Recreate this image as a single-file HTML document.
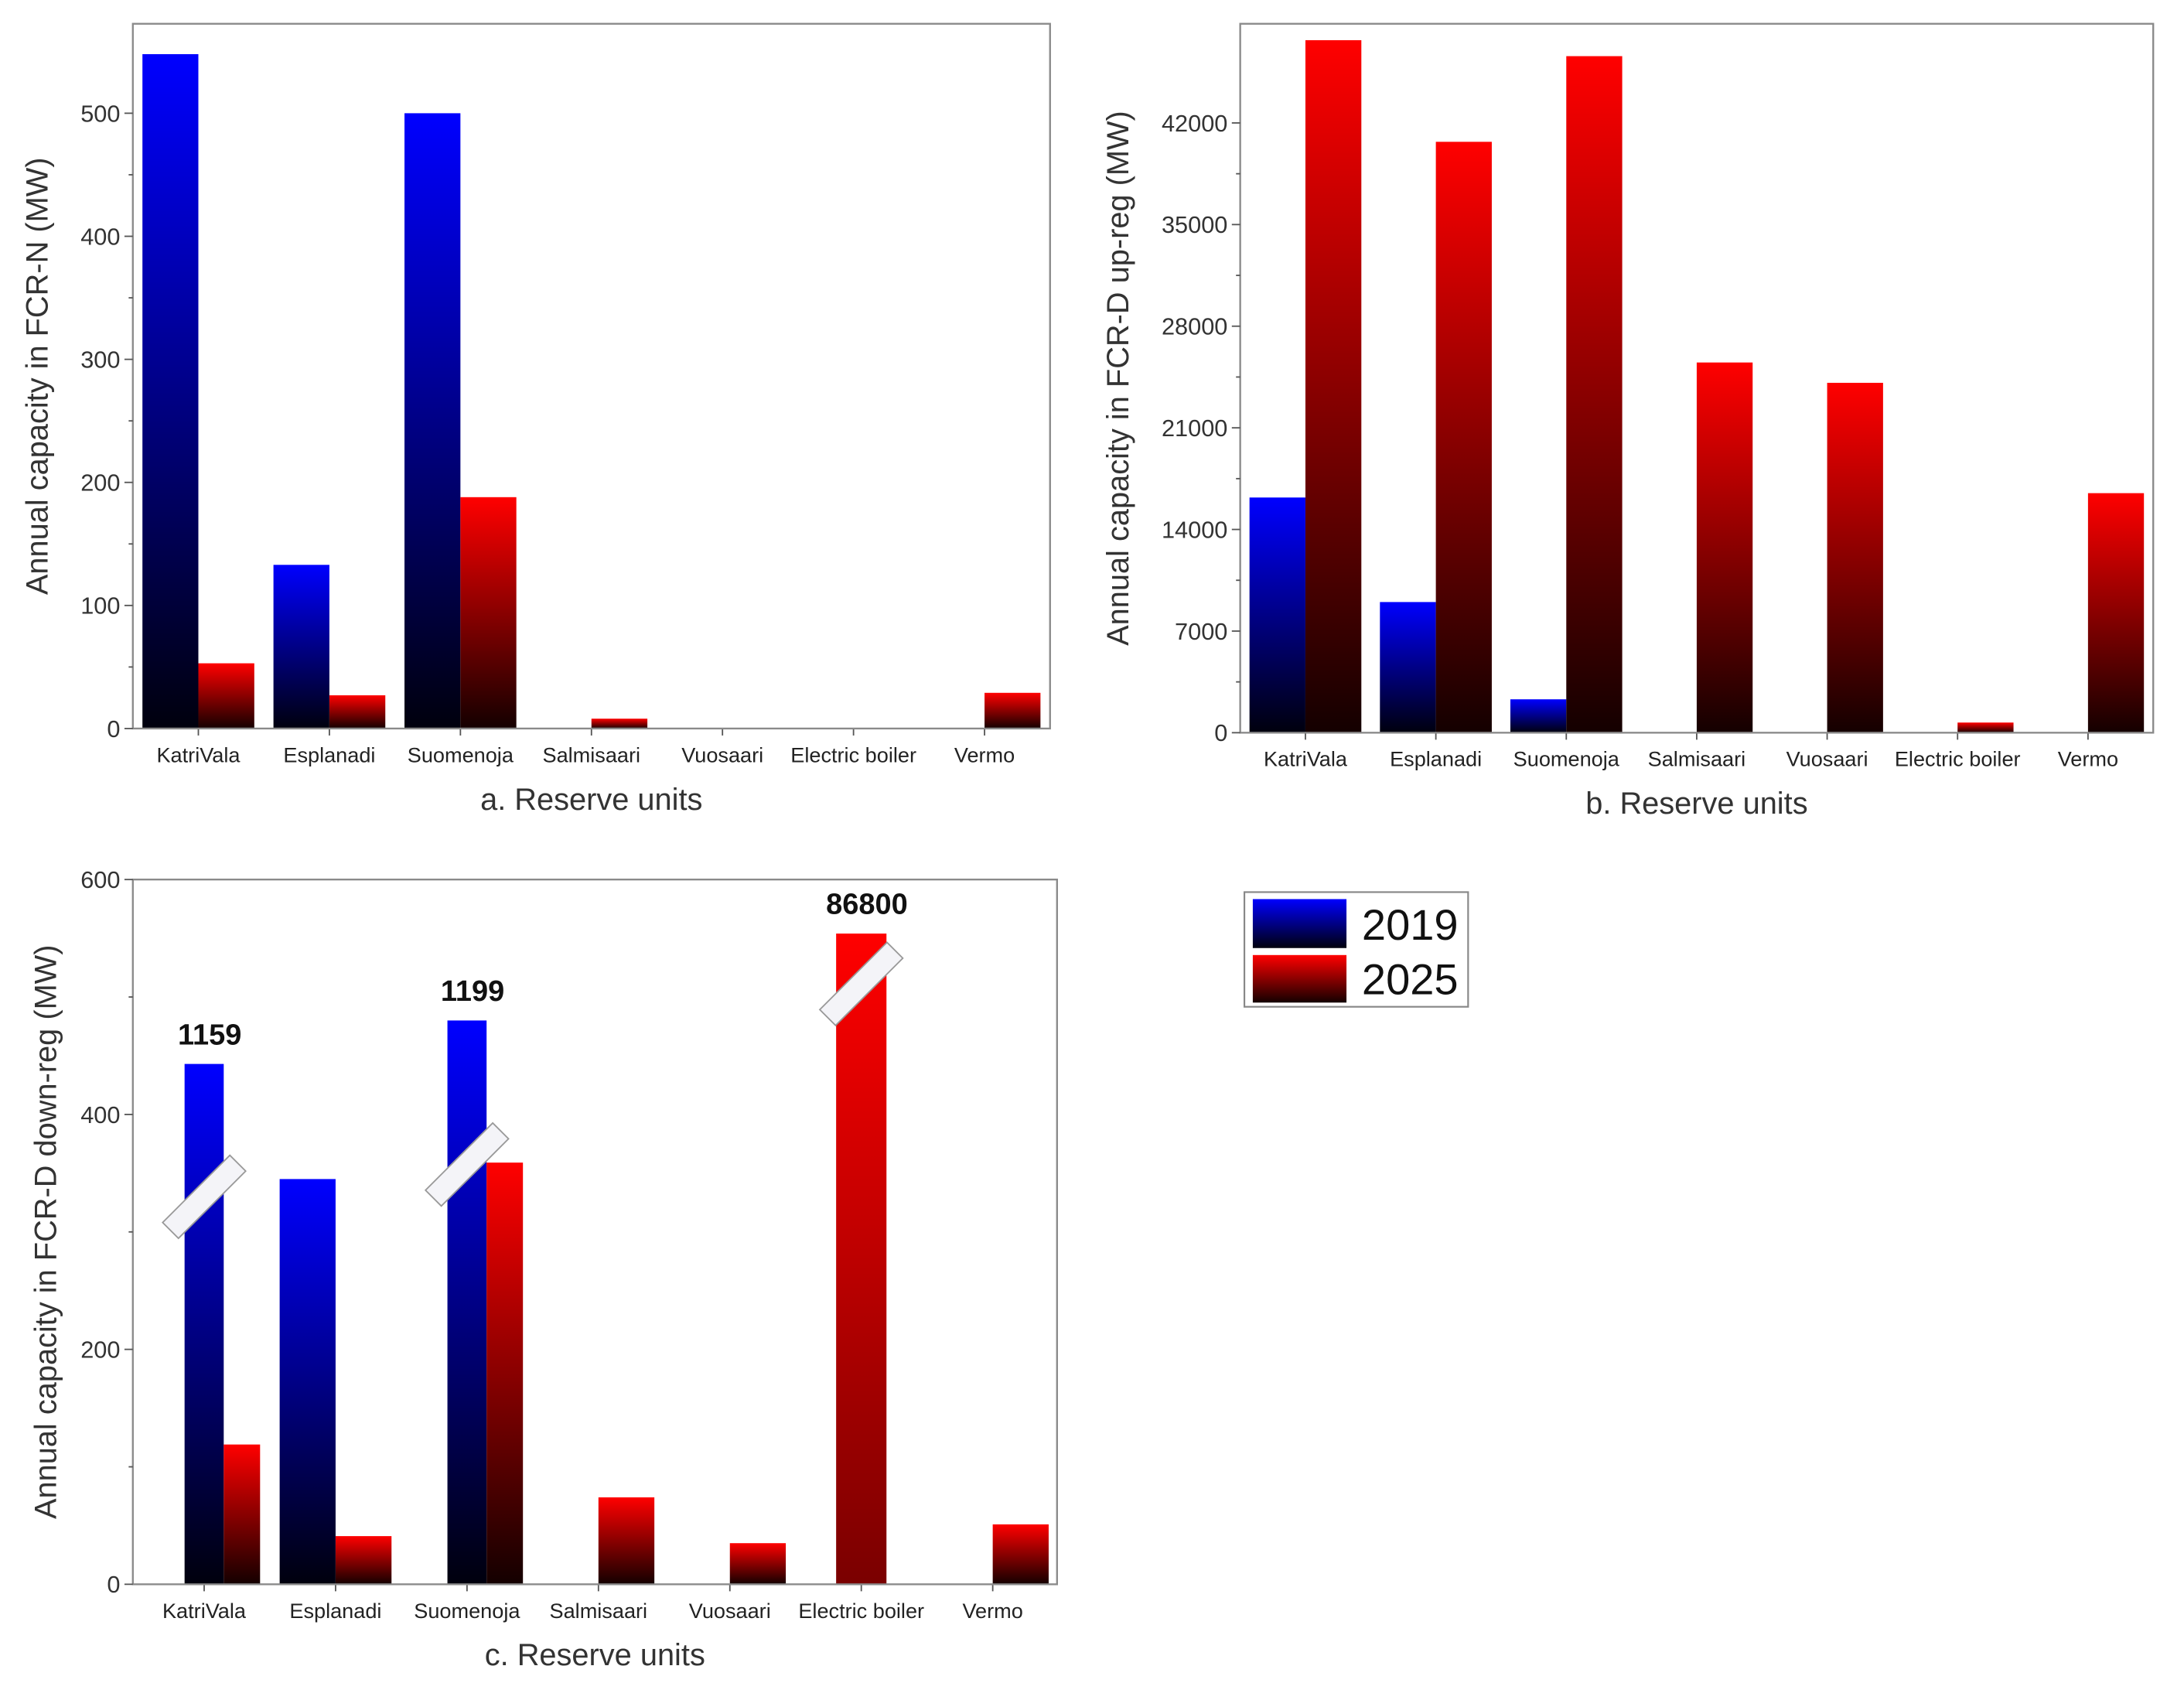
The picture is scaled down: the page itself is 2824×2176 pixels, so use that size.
<!DOCTYPE html>
<html><head><meta charset="utf-8"><style>
html,body{margin:0;padding:0;background:#fff}
svg{display:block}
text{font-family:"Liberation Sans",sans-serif}
</style></head><body>
<svg id="fig" width="2824" height="2176" viewBox="0 0 1562 1203.6" xmlns="http://www.w3.org/2000/svg">
<defs>
<linearGradient id="gBlue" x1="0" y1="0" x2="0" y2="1"><stop offset="0" stop-color="#0000ff"/><stop offset="1" stop-color="#00000d"/></linearGradient>
<linearGradient id="gRed" x1="0" y1="0" x2="0" y2="1"><stop offset="0" stop-color="#ff0000"/><stop offset="1" stop-color="#140000"/></linearGradient>
<linearGradient id="gRed2" x1="0" y1="0" x2="0" y2="1"><stop offset="0" stop-color="#ff0000"/><stop offset="1" stop-color="#7a0000"/></linearGradient>
</defs>
</svg>
<script>
const categories = ["KatriVala","Esplanadi","Suomenoja","Salmisaari","Vuosaari","Electric boiler","Vermo"];
const a2019 = [548,133,500,0,0,0,0];
const a2025 = [53,27,188,8,0,0,29];
const aTicks = [0,100,200,300,400,500];
const b2019 = [16200,9000,2300,0,0,0,0];
const b2025 = [47700,40700,46600,25500,24100,700,16500];
const bTicks = [0,7000,14000,21000,28000,35000,42000];
const c2019 = [443,345,480,0,0,0,0];
const c2025 = [119,41,359,74,35,554,51];
const cTicks = [0,200,400,600];
const cBreakLabels = ["1159","","1199","","","86800",""];
const cBreakSeries = ["2019","","2019","","","2025",""];

const NS="http://www.w3.org/2000/svg";
const svg=document.getElementById('fig');
function mk(tag,attrs,parent){const e=document.createElementNS(NS,tag);for(const k in attrs)e.setAttribute(k,attrs[k]);(parent||svg).appendChild(e);return e;}

function chart(o){
  const g=mk('g',{});
  
  
  const L=o.left,R=o.right,T=o.top,B=o.bottom;
  const y=v=>B-(v-0)/(o.max)*(B-T);
  const n=categories.length;
  const step=o.step||(R-L)/n;
  const cx=i=>L+step*(i+0.5)+o.shift;
  for(let i=0;i<n;i++){
    const narrow=o.breakLabels&&o.breakLabels[i]&&o.breakSeries[i]==="2019";
    const single=o.breakLabels&&o.breakSeries[i]==="2025"&&o.s1[i]===0;
    let bx1=cx(i)-40,bw1=40,rx=cx(i),rw=40;
    if(narrow){bx1=cx(i)-14;bw1=28;rx=cx(i)+14;rw=26;}
    if(single){rx=cx(i)-18;rw=36;}
    if(o.s1[i]>0){
      const r=mk('rect',{x:bx1,y:y(o.s1[i]),width:bw1,height:B-y(o.s1[i]),fill:'url(#gBlue)'},g);
      
      
    }
    if(o.s2[i]>0){
      const r=mk('rect',{x:rx,y:y(o.s2[i]),width:rw,height:B-y(o.s2[i]),fill:single?'url(#gRed2)':'url(#gRed)'},g);
      
      
    }
    const t=mk('text',{x:cx(i),y:B+24,'font-size':15,'text-anchor':'middle',fill:'#222'},g);
    t.textContent=categories[i];
    
    
    mk('line',{x1:cx(i),x2:cx(i),y1:B,y2:B+5,stroke:'#555','stroke-width':1},g);
  }
  const f=mk('rect',{x:L,y:T,width:R-L,height:B-T,fill:'none',stroke:'#8a8a8a','stroke-width':1.3},g);
  
  
  const tk=o.ticks;
  for(let j=0;j<tk.length;j++){
    const yy=y(tk[j]);
    mk('line',{x1:L-6,x2:L,y1:yy,y2:yy,stroke:'#555','stroke-width':1},g);
    const t=mk('text',{x:L-9,y:yy+6,'font-size':17,'text-anchor':'end',fill:'#333'},g);
    t.textContent=tk[j];
    
    
    if(j<tk.length-1){const ym=y((tk[j]+tk[j+1])/2);mk('line',{x1:L-3,x2:L,y1:ym,y2:ym,stroke:'#555','stroke-width':1},g);}
  }
  const yt=mk('text',{x:0,y:0,'font-size':22,'text-anchor':'middle',fill:'#333',transform:`translate(${o.ytx},${(T+B)/2}) rotate(-90)`},g);
  yt.textContent=o.ytitle;
  
  
  const xt=mk('text',{x:(L+R)/2,y:B+58,'font-size':22,'text-anchor':'middle',fill:'#333'},g);
  xt.textContent=o.xtitle;
  
  
  if(o.breakLabels){
    for(let i=0;i<n;i++){
      if(!o.breakLabels[i])continue;
      const is19=o.breakSeries[i]==="2019";
      const v=is19?o.s1[i]:o.s2[i];
      const bx=cx(i);
      const lab=mk('text',{x:bx+4,y:y(v)-14,'font-size':21,'font-weight':'bold','text-anchor':'middle',fill:'#111'},g);
      lab.textContent=o.breakLabels[i];
      
      
      const my=y(v)+(is19?(i===0?95:103):36);
      const br=mk('rect',{x:-34,y:-8,width:68,height:16,fill:'#f4f4f8',stroke:'#999','stroke-width':1,transform:`translate(${bx},${my}) rotate(-45)`},g);
      
      
    }
  }
}

chart({name:'chart-a-fcr-n',left:95,right:751,top:17,bottom:521,max:572.7,shift:0,s1:a2019,s2:a2025,ticks:aTicks,ytitle:'Annual capacity in FCR-N (MW)',xtitle:'a. Reserve units',ytx:34});
chart({name:'chart-b-fcr-d-up',left:887,right:1540,top:17,bottom:524,max:48830,shift:0,s1:b2019,s2:b2025,ticks:bTicks,ytitle:'Annual capacity in FCR-D up-reg (MW)',xtitle:'b. Reserve units',ytx:807});
chart({name:'chart-c-fcr-d-down',left:95,right:756,top:629,bottom:1133,max:600,step:94,shift:4,s1:c2019,s2:c2025,ticks:cTicks,ytitle:'Annual capacity in FCR-D down-reg (MW)',xtitle:'c. Reserve units',ytx:40,breakLabels:cBreakLabels,breakSeries:cBreakSeries});

const lg=mk('g',{});


mk('rect',{x:890,y:638,width:160,height:82,fill:'#fff',stroke:'#888','stroke-width':1.2},lg);
const e1=mk('rect',{x:896,y:643,width:67,height:35,fill:'url(#gBlue)'},lg);


const e2=mk('rect',{x:896,y:683,width:67,height:34,fill:'url(#gRed)'},lg);


const t1=mk('text',{x:974,y:672,'font-size':31,fill:'#111'},lg);t1.textContent='2019';


const t2=mk('text',{x:974,y:711,'font-size':31,fill:'#111'},lg);t2.textContent='2025';


</script>
</body></html>
